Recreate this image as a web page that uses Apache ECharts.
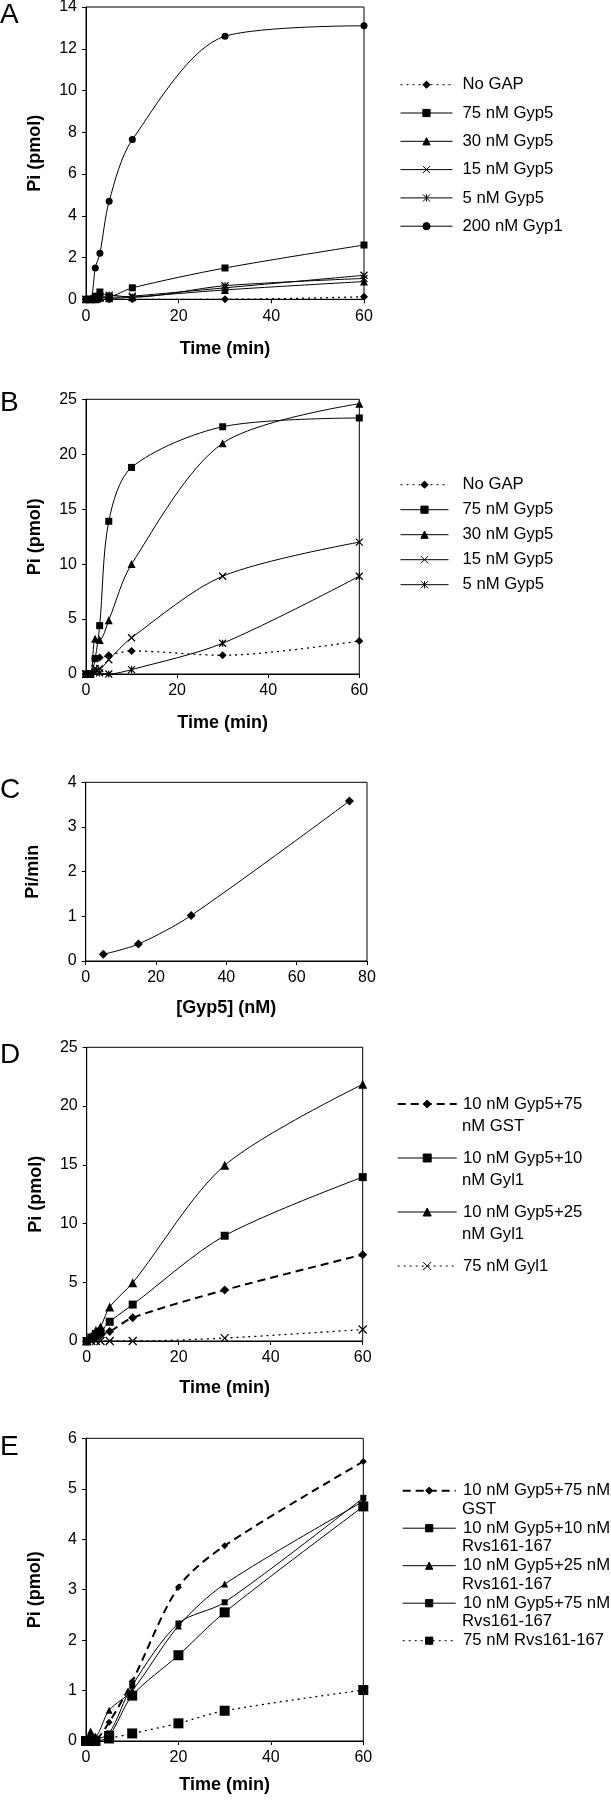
<!DOCTYPE html>
<html><head><meta charset="utf-8">
<script src="https://cdn.jsdelivr.net/npm/echarts@6/dist/echarts.min.js"></script>
<style>html,body{margin:0;padding:0;background:#fff}#c{width:611px;height:1800px}</style>
</head><body><div id="c"></div><script>
// ---------- DATA ----------
const timeA = [0, 1, 2, 3, 5, 10, 30, 60];
const aNoGap   = [0, 0, 0, 0, 0, 0, 0, 0.12];
const a75Gyp5  = [0, 0, 0.15, 0.35, 0.15, 0.55, 1.5, 2.6];
const a30Gyp5  = [0, 0, 0, 0.1, 0.05, 0.1, 0.45, 0.85];
const a15Gyp5  = [0, 0, 0.05, 0.1, 0.1, 0.15, 0.55, 1.15];
const a5Gyp5   = [0, 0, 0, 0.05, 0.2, 0.1, 0.65, 1.0];
const a200Gyp1 = [0, 0, 1.5, 2.2, 4.7, 7.65, 12.6, 13.1];

const timeB = [0, 1, 2, 3, 5, 10, 30, 60];
const bNoGap  = [0, 0, 1.4, 1.5, 1.7, 2.1, 1.7, 3.0];
const b75Gyp5 = [0, 0, 1.4, 4.4, 13.9, 18.8, 22.5, 23.3];
const b30Gyp5 = [0, 0, 3.2, 3.1, 4.9, 10.0, 21.0, 24.6];
const b15Gyp5 = [0, 0, 0.5, 0.5, 1.3, 3.3, 8.9, 12.0];
const b5Gyp5  = [0, 0, 0.2, 0.1, 0, 0.4, 2.8, 8.9];

const gyp5Conc = [5, 15, 30, 75];
const piPerMin = [0.15, 0.38, 1.02, 3.58];

const timeD = [0, 1, 2, 3, 5, 10, 30, 60];
const dGST    = [0, 0.2, 0.35, 0.5, 0.8, 1.98, 4.34, 7.35];
const d10Gyl1 = [0, 0.3, 0.6, 0.8, 1.64, 3.1, 8.96, 13.95];
const d25Gyl1 = [0, 0.4, 0.9, 1.2, 2.9, 4.96, 14.95, 21.85];
const d75Gyl1 = [0, 0, 0, 0, 0, 0, 0.25, 0.98];

const timeE = [0, 1, 2, 5, 10, 20, 30, 60];
const eGST     = [0, 0.1, 0.05, 0.37, 1.18, 3.05, 3.87, 5.54];
const e10Rvs   = [0, 0.05, 0.05, 0.15, 1.1, 2.33, 2.75, 4.82];
const e25Rvs   = [0, 0.2, 0.1, 0.61, 1.0, 2.28, 3.11, 4.75];
const e75RvsMx = [0, 0, 0, 0.1, 0.9, 1.7, 2.55, 4.65];
const e75Rvs   = [0, 0, 0, 0.05, 0.15, 0.35, 0.6, 1.01];

const namesA = ['No GAP', '75 nM Gyp5', '30 nM Gyp5', '15 nM Gyp5', '5 nM Gyp5', '200 nM Gyp1'];
const namesB = ['No GAP', '75 nM Gyp5', '30 nM Gyp5', '15 nM Gyp5', '5 nM Gyp5'];
const namesD = ['10 nM Gyp5+75 nM GST', '10 nM Gyp5+10 nM Gyl1', '10 nM Gyp5+25 nM Gyl1', '75 nM Gyl1'];
const namesE = ['10 nM Gyp5+75 nM GST', '10 nM Gyp5+10 nM Rvs161-167', '10 nM Gyp5+25 nM Rvs161-167', '10 nM Gyp5+75 nM Rvs161-167', '75 nM Rvs161-167'];
const legD1 = ['10 nM Gyp5+75', '10 nM Gyp5+10', '10 nM Gyp5+25', '75 nM Gyl1'];
const legD2 = ['nM GST', 'nM Gyl1', 'nM Gyl1', ''];
const legE1 = ['10 nM Gyp5+75 nM', '10 nM Gyp5+10 nM', '10 nM Gyp5+25 nM', '10 nM Gyp5+75 nM', '75 nM Rvs161-167'];
const legE2 = ['GST', 'Rvs161-167', 'Rvs161-167', 'Rvs161-167', ''];

// ---------- STYLE ----------
const FONT = '"Liberation Sans", Arial, sans-serif';
const SYM = {
  diamond: 'diamond', square: 'rect', triangle: 'triangle', circle: 'circle',
  x: 'path://M0,0L10,10M10,0L0,10',
  star: 'path://M0,0L10,10M10,0L0,10M5,0L5,10'
};
const DOT = [2, 4];
const DASH = [8, 5];
const WIDE = ['10 nM Gyp5+75 nM GST'];

function zip(xs, ys) { return xs.map((x, i) => [x, ys[i]]); }
function line(name, idx, xs, ys, sym, size, ltype, lwidth) {
  const stroked = (sym === 'x' || sym === 'star');
  return {
    type: 'line', name, xAxisIndex: idx, yAxisIndex: idx,
    data: zip(xs, ys), symbol: SYM[sym], symbolSize: size,
    smooth: 0.3, clip: false, animation: false, showSymbol: true,
    lineStyle: { color: '#000', width: lwidth || 1, type: ltype || 'solid' },
    itemStyle: { color: '#000', borderColor: '#000', borderWidth: stroked ? 1.2 : 0 },
    emphasis: { disabled: true }, z: 3
  };
}

const grids = [
  { left: 86, top: 7, width: 278, height: 292.3 },
  { left: 86, top: 399.3, width: 273.3, height: 274.7 },
  { left: 85.7, top: 782.3, width: 281.3, height: 178.7 },
  { left: 86.7, top: 1047.3, width: 276, height: 293.7 },
  { left: 86, top: 1438.3, width: 277.3, height: 302.7 }
].map(g => Object.assign({ show: true, borderColor: '#000', borderWidth: 1, backgroundColor: 'transparent', containLabel: false, outerBoundsMode: 'none' }, g));

function xAx(i, max, interval, name, gap) {
  return {
    type: 'value', gridIndex: i, min: 0, max, interval,
    axisLine: { show: true, onZero: false, lineStyle: { color: '#000', width: 1 } },
    axisTick: { show: true, inside: false, length: 4, lineStyle: { color: '#000', width: 1 } },
    axisLabel: { show: true, color: '#000', fontSize: 16, fontFamily: FONT, margin: 9 },
    splitLine: { show: false },
    name, nameLocation: 'middle', nameGap: gap,
    nameTextStyle: { color: '#000', fontSize: 18, fontWeight: 'bold', fontFamily: FONT }
  };
}
function yAx(i, max, interval, name, gap) {
  return {
    type: 'value', gridIndex: i, min: 0, max, interval,
    axisLine: { show: true, onZero: false, lineStyle: { color: '#000', width: 1 } },
    axisTick: { show: true, inside: false, length: 4, lineStyle: { color: '#000', width: 1 } },
    axisLabel: { show: true, color: '#000', fontSize: 16, fontFamily: FONT, margin: 9 },
    splitLine: { show: false },
    name, nameLocation: 'middle', nameGap: gap, nameRotate: 90,
    nameTextStyle: { color: '#000', fontSize: 18, fontWeight: 'bold', fontFamily: FONT }
  };
}

const series = [
  line(namesA[0], 0, timeA, aNoGap, 'diamond', 8, DOT, 1.3),
  line(namesA[1], 0, timeA, a75Gyp5, 'square', 7),
  line(namesA[2], 0, timeA, a30Gyp5, 'triangle', 8),
  line(namesA[3], 0, timeA, a15Gyp5, 'x', 7),
  line(namesA[4], 0, timeA, a5Gyp5, 'star', 7),
  line(namesA[5], 0, timeA, a200Gyp1, 'circle', 7),

  line(namesB[0], 1, timeB, bNoGap, 'diamond', 8, DOT, 1.3),
  line(namesB[1], 1, timeB, b75Gyp5, 'square', 7),
  line(namesB[2], 1, timeB, b30Gyp5, 'triangle', 8),
  line(namesB[3], 1, timeB, b15Gyp5, 'x', 7),
  line(namesB[4], 1, timeB, b5Gyp5, 'star', 7),

  line('Pi/min', 2, gyp5Conc, piPerMin, 'diamond', 9),

  line(namesD[0], 3, timeD, dGST, 'diamond', 9, DASH, 2),
  line(namesD[1], 3, timeD, d10Gyl1, 'square', 8),
  line(namesD[2], 3, timeD, d25Gyl1, 'triangle', 9),
  line(namesD[3], 3, timeD, d75Gyl1, 'x', 8, DOT, 1.3),

  line(namesE[0], 4, timeE, eGST, 'diamond', 7, DASH, 2),
  line(namesE[1], 4, timeE, e10Rvs, 'square', 6),
  line(namesE[2], 4, timeE, e25Rvs, 'triangle', 7),
  line(namesE[3], 4, timeE, e75RvsMx, 'square', 10),
  line(namesE[4], 4, timeE, e75Rvs, 'square', 10, DOT, 1.3)
];

function legend(names, left, centerY, itemWidth, itemHeight, lh, spacing, padLeft, firstLines) {
  return {
    show: true, orient: 'vertical', left, top: centerY - lh / 2, padding: 0,
    itemWidth, itemHeight, itemGap: spacing - lh, selectedMode: false,
    data: names.map(n => ({ name: n, lineStyle: { width: WIDE.indexOf(n) >= 0 ? 2 : 1 } })),
    formatter: firstLines ? (n => firstLines[names.indexOf(n)]) : undefined,
    textStyle: { color: '#000', fontSize: 16.7, fontFamily: FONT, lineHeight: lh, padding: [0, 0, 0, padLeft] },
    itemStyle: { borderWidth: 1 },
    lineStyle: { width: 1 }
  };
}

const legends = [
  legend(namesA, 400, 84.7, 52, 9, 20, 28.3, 5),
  legend(namesB, 400, 484.7, 48, 9, 20, 25, 9),
  legend(namesD, 396.7, 1104, 59, 10, 22.7, 54, 1.3, legD1),
  legend(namesE, 401.7, 1490.7, 53, 9, 18.7, 37.5, 2.3, legE1)
];

const graphics = [];
[['A', 15], ['B', 403.3], ['C', 790], ['D', 1055], ['E', 1447.5]].forEach(([t, y]) => {
  graphics.push({ type: 'text', x: 0, y, style: { text: t, fontSize: 28, fontFamily: FONT, fill: '#000', verticalAlign: 'middle', align: 'left' } });
});
const secD = [1126.7, 1180.3, 1234.3];
secD.forEach((y, i) => graphics.push({ type: 'text', x: 462, y, style: { text: legD2[i], fontSize: 16.7, fontFamily: FONT, fill: '#000', verticalAlign: 'middle' } }));
const secE = [1509.3, 1546.7, 1584.3, 1621.7];
secE.forEach((y, i) => graphics.push({ type: 'text', x: 462, y, style: { text: legE2[i], fontSize: 16.7, fontFamily: FONT, fill: '#000', verticalAlign: 'middle' } }));

const option = {
  backgroundColor: '#fff',
  animation: false,
  textStyle: { fontFamily: FONT },
  grid: grids,
  xAxis: [
    xAx(0, 60, 20, 'Time (min)', 41),
    xAx(1, 60, 20, 'Time (min)', 40),
    xAx(2, 80, 20, '[Gyp5] (nM)', 38),
    xAx(3, 60, 20, 'Time (min)', 38),
    xAx(4, 60, 20, 'Time (min)', 35)
  ],
  yAxis: [
    yAx(0, 14, 2, 'Pi (pmol)', 42),
    yAx(1, 25, 5, 'Pi (pmol)', 42),
    yAx(2, 4, 1, 'Pi/min', 44),
    yAx(3, 25, 5, 'Pi (pmol)', 42),
    yAx(4, 6, 1, 'Pi (pmol)', 42)
  ],
  legend: legends,
  series,
  graphic: { elements: graphics }
};

const chart = echarts.init(document.getElementById('c'), null, { renderer: 'canvas' });
chart.setOption(option);
</script></body></html>
